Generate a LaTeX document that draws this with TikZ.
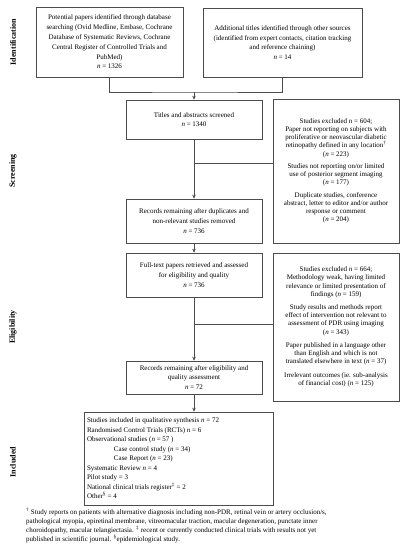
\documentclass[tikz,border=0pt]{standalone}
\usepackage{fontspec}
\setmainfont{Liberation Serif}
\usetikzlibrary{arrows.meta}
\begin{document}
\begin{tikzpicture}[x=1pt,y=-1pt,
  box/.style={draw=black!70, line width=0.6pt, inner sep=0pt, align=center, font=\fontsize{7}{9.8}\selectfont},
  exbox/.style={box, font=\fontsize{7}{8.1}\selectfont},
  conn/.style={draw=black!70, line width=0.6pt},
  arr/.style={conn, -{Stealth[length=4pt,width=3.5pt]}},
  phase/.style={rotate=90, font=\fontsize{8}{9}\selectfont\bfseries, inner sep=0pt}
]
\useasboundingbox (0,0) rectangle (407,550);

% phase labels
\node[phase] (lid) at (13,42) {Identification};
\node[phase] (lsc) at (13,171) {Screening};
\node[phase] (lel) at (13,327) {Eligibility};
\node[phase] (lin) at (13,462) {Included};

% boxes
\node[box, minimum width=147pt, minimum height=70pt] (db) at (109.5,42)
 {Potential papers identified through database\\searching (Ovid Medline, Embase, Cochrane\\Database of Systematic Reviews, Cochrane\\Central Register of Controlled Trials and\\PubMed)\\\textit{n} = 1326};
\node[box, minimum width=159pt, minimum height=69pt] (add) at (282.5,42.5)
 {Additional titles identified through other sources\\(identified from expert contacts, citation tracking\\and reference chaining)\\\textit{n} = 14};
\node[box, minimum width=136pt, minimum height=39pt] (titles) at (194,119.5)
 {Titles and abstracts screened\\\textit{n} = 1340};
\node[exbox, minimum width=126pt, minimum height=144pt] (ex1) at (336,171)
 {Studies excluded n = 604;\\Paper not reporting on subjects with\\proliferative or neovascular diabetic\\retinopathy defined in any location\textsuperscript{\dag}\\(\textit{n} = 223)\\[4.5pt]
  Studies not reporting on/or limited\\use of posterior segment imaging\\(\textit{n} = 177)\\[4.5pt]
  Duplicate studies, conference\\abstract, letter to editor and/or author\\response or comment\\(\textit{n} = 204)};
\node[box, minimum width=136pt, minimum height=44pt] (rec) at (194,221)
 {Records remaining after duplicates and\\non-relevant studies removed\\\textit{n} = 736};
\node[box, minimum width=136pt, minimum height=44pt] (full) at (194,275)
 {Full-text papers retrieved and assessed\\for eligibility and quality\\\textit{n} = 736};
\node[exbox, minimum width=126pt, minimum height=148pt] (ex2) at (336,327)
 {Studies excluded \textit{n} = 664;\\Methodology weak, having limited\\relevance or limited presentation of\\findings (\textit{n} = 159)\\[5.5pt]
  Study results and methods report\\effect of intervention not relevant to\\assessment of PDR using imaging\\(\textit{n} = 343)\\[5.5pt]
  Paper published in a language other\\than English and which is not\\translated elsewhere in text (\textit{n} = 37)\\[5.5pt]
  Irrelevant outcomes (ie. sub-analysis\\of financial cost) (\textit{n} = 125)};
\node[box, minimum width=136pt, minimum height=33pt] (rec2) at (194,377.5)
 {Records remaining after eligibility and\\quality assessment\\\textit{n} = 72};
\node[box, minimum width=189pt, minimum height=93pt, align=left, font=\fontsize{7}{9.5}\selectfont] (inc) at (178.5,458.5)
 {\makebox[183pt][l]{Studies included in qualitative synthesis \textit{n} = 72}\\
  Randomised Control Trials (RCTs) \textit{n} = 6\\
  Observational studies (\textit{n} = 57 )\\
  \hspace*{27pt}Case control study (\textit{n} = 34)\\
  \hspace*{27pt}Case Report (\textit{n} = 23)\\
  Systematic Review \textit{n} = 4\\
  Pilot study = 3\\
  National clinical trials register\textsuperscript{\ddag} = 2\\
  Other\textsuperscript{\S} = 4};

% footnote
\node[anchor=north west, inner sep=0pt, align=left, font=\fontsize{7}{9}\selectfont] (fn) at (26,507.5)
 {\textsuperscript{\dag} Study reports on patients with alternative diagnosis including non-PDR, retinal vein or artery occlusion/s,\\
  pathological myopia, epiretinal membrane, vitreomacular traction, macular degeneration, punctate inner\\
  choroidopathy, macular telangiectasia. \textsuperscript{\ddag} recent or currently conducted clinical trials with results not yet\\
  published in scientific journal. \textsuperscript{\S}epidemiological study.};

% connectors
\coordinate (j1) at (194,92);
\draw[conn] (db.south) |- (j1) -| (add.south);
\draw[arr] (j1) -- (titles.north);
\draw[arr] (titles.south) -- (rec.north);
\coordinate (b1) at (194,163);
\draw[conn] (b1) -- (b1 -| ex1.west);
\draw[arr] (rec.south) -- (full.north);
\draw[arr] (full.south) -- (rec2.north);
\coordinate (b2) at (194,324);
\draw[conn] (b2) -- (b2 -| ex2.west);
\draw[arr] (rec2.south) -- (rec2.south |- inc.north);
\end{tikzpicture}
\end{document}
